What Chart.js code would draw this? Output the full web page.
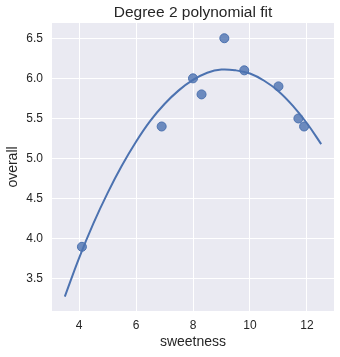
<!DOCTYPE html>
<html>
<head>
<meta charset="utf-8">
<script src="https://cdn.jsdelivr.net/npm/chart.js@4/dist/chart.umd.min.js"></script>
<style>
    html, body { margin: 0; padding: 0; background: #ffffff; }
    canvas { display: block; }
</style>
</head>
<body>
<canvas id="fitChart" width="340" height="357"></canvas>
<script>
// data
const sweetness = [4.1, 6.9, 8.0, 8.3, 9.1, 9.8, 11.0, 11.7, 11.9];
const overall = [3.9, 5.4, 6.0, 5.8, 6.5, 6.1, 5.9, 5.5, 5.4];

// fitted curve
const fitX = [3.5, 4, 4.5, 5, 5.5, 6, 6.5, 7, 7.5, 8, 8.5, 9, 9.5, 10, 10.5, 11, 11.5, 12, 12.5];
const fitY = [3.28, 3.76, 4.19, 4.57, 4.91, 5.21, 5.47, 5.68, 5.85, 5.98, 6.07, 6.11, 6.10, 6.06, 5.97, 5.84, 5.66, 5.44, 5.18];

// ticks
const xTicks = [4, 6, 8, 10, 12];
const yTicks = [3.5, 4.0, 4.5, 5.0, 5.5, 6.0, 6.5];

const chartTitle = "Degree 2 polynomial fit";

const blue = "#4C72B0";
const textColor = "#262626";
const fontFamily = "'Liberation Sans', Arial, sans-serif";

// axes background + title centred over the plot area (like matplotlib)
const plotBackground = {
    id: "plotBackground",
    beforeDraw(chart) {
        const { ctx, chartArea } = chart;
        ctx.save();
        ctx.fillStyle = "#EAEAF2";
        ctx.fillRect(chartArea.left, chartArea.top, chartArea.right - chartArea.left, chartArea.bottom - chartArea.top);
        ctx.restore();
    },
    afterDraw(chart) {
        const { ctx, chartArea } = chart;
        ctx.save();
        ctx.fillStyle = textColor;
        ctx.font = "15.5px " + fontFamily;
        ctx.textAlign = "center";
        ctx.textBaseline = "middle";
        ctx.fillText(chartTitle, (chartArea.left + chartArea.right) / 2, 13);
        ctx.restore();
    },
};

const fitChart = document.getElementById("fitChart");

new Chart(fitChart, {
    type: "scatter",
    data: {
        datasets: [
            {
                type: "line",
                label: "fit",
                data: fitX.map((x, i) => ({ x: x, y: fitY[i] })),
                borderColor: blue,
                borderWidth: 2,
                pointRadius: 0,
                fill: false,
                tension: 0.4,
                order: 0,
            },
            {
                label: "points",
                data: sweetness.map((x, i) => ({ x: x, y: overall[i] })),
                pointRadius: 4.5,
                pointBackgroundColor: "rgba(76,114,176,0.8)",
                pointBorderColor: blue,
                pointBorderWidth: 1,
                order: 1,
            },
        ],
    },
    options: {
        responsive: false,
        animation: false,
        layout: {
            padding: { left: 0, right: 6, top: 23, bottom: 0 },
        },
        scales: {
            x: {
                type: "linear",
                min: 3.05,
                max: 12.95,
                afterBuildTicks: (scale) => {
                    scale.ticks = xTicks.map((v) => ({ value: v }));
                },
                afterFit: (scale) => {
                    scale.height = 46;
                },
                grid: { color: "#ffffff", lineWidth: 1, drawTicks: false },
                border: { display: false },
                ticks: {
                    color: textColor,
                    padding: 7,
                    font: { family: fontFamily, size: 12 },
                },
                title: {
                    display: true,
                    text: "sweetness",
                    color: textColor,
                    font: { family: fontFamily, size: 14 },
                    padding: { top: 0, bottom: 6 },
                },
            },
            y: {
                type: "linear",
                min: 3.1,
                max: 6.69,
                afterBuildTicks: (scale) => {
                    scale.ticks = yTicks.map((v) => ({ value: v }));
                },
                afterFit: (scale) => {
                    scale.width = 52;
                },
                grid: { color: "#ffffff", lineWidth: 1, drawTicks: false },
                border: { display: false },
                ticks: {
                    color: textColor,
                    padding: 9,
                    font: { family: fontFamily, size: 12 },
                    callback: (v) => v.toFixed(1),
                },
                title: {
                    display: true,
                    text: "overall",
                    color: textColor,
                    font: { family: fontFamily, size: 14 },
                    padding: { top: 5, bottom: 0 },
                },
            },
        },
        plugins: {
            legend: { display: false },
            tooltip: { enabled: false },
            title: { display: false },
        },
    },
    plugins: [plotBackground],
});
</script>
</body>
</html>
